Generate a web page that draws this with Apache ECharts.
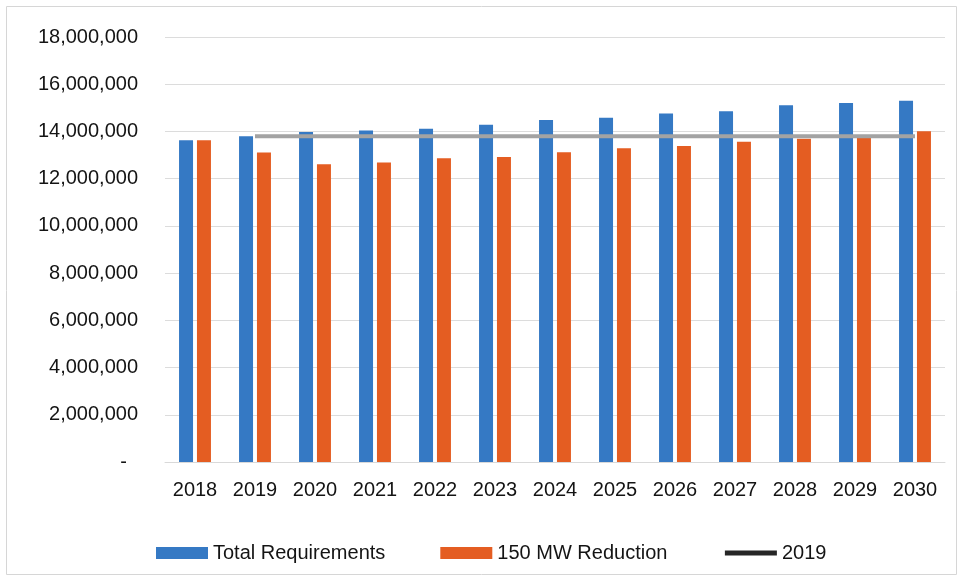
<!DOCTYPE html>
<html>
<head>
<meta charset="utf-8">
<script src="https://cdn.jsdelivr.net/npm/echarts@6/dist/echarts.min.js"></script>
<style>
  html, body { margin: 0; padding: 0; background: #fff; }
  #chart { width: 962px; height: 580px; }
</style>
</head>
<body>
<div id="chart"></div>
<script>
// Annual energy requirements (MWh)
const years = ['2018', '2019', '2020', '2021', '2022', '2023', '2024',
               '2025', '2026', '2027', '2028', '2029', '2030'];
const totalRequirements = [13630000, 13800000, 13980000, 14040000, 14110000, 14280000, 14480000,
                           14580000, 14760000, 14860000, 15110000, 15210000, 15300000];
const reduction150MW = [13630000, 13110000, 12610000, 12690000, 12860000, 12920000, 13120000,
                        13290000, 13380000, 13560000, 13690000, 13750000, 14010000];
// 2019 reference level, drawn from 2019 onward
const level2019 = [null, 13800000, 13800000, 13800000, 13800000, 13800000, 13800000,
                   13800000, 13800000, 13800000, 13800000, 13800000, 13800000];
const yTicks = { min: 0, max: 18000000, step: 2000000 };

const font = 'Liberation Sans, Arial, sans-serif';
const chart = echarts.init(document.getElementById('chart'));

chart.setOption({
  animation: false,
  backgroundColor: '#ffffff',
  graphic: [{
    type: 'rect',
    shape: { x: 6.5, y: 6.5, width: 950, height: 568 },
    style: { fill: 'none', stroke: '#d6d6d6', lineWidth: 1 },
    silent: true
  }],
  grid: { left: 165, right: 17, top: 37, bottom: 118 },
  legend: {
    left: 151,
    top: 538,
    itemWidth: 52,
    itemHeight: 12,
    itemGap: 55,
    textStyle: { fontFamily: font, fontSize: 20, color: '#141414' },
    data: [
      { name: 'Total Requirements', icon: 'rect' },
      { name: '150 MW Reduction', icon: 'rect' },
      { name: '2019', itemStyle: { opacity: 0 }, lineStyle: { color: '#262626', width: 5 } }
    ]
  },
  xAxis: {
    type: 'category',
    data: years,
    axisLine: { show: true, lineStyle: { color: '#d9d9d9' } },
    axisTick: { show: false },
    axisLabel: { fontFamily: font, fontSize: 20, color: '#141414', margin: 18 }
  },
  yAxis: {
    type: 'value',
    min: yTicks.min,
    max: yTicks.max,
    interval: yTicks.step,
    axisLine: { show: false },
    axisTick: { show: false },
    splitLine: { lineStyle: { color: '#dcdcdc', width: 1 } },
    axisLabel: {
      fontFamily: font, fontSize: 20, color: '#141414', margin: 27,
      formatter: v => v === 0 ? '-  ' : v.toLocaleString('en-US')
    }
  },
  series: [
    {
      name: 'Total Requirements',
      type: 'bar',
      data: totalRequirements,
      barWidth: 14,
      barGap: '28%',
      itemStyle: { color: '#3579c4' }
    },
    {
      name: '150 MW Reduction',
      type: 'bar',
      data: reduction150MW,
      barWidth: 14,
      itemStyle: { color: '#e45d22' }
    },
    {
      name: '2019',
      type: 'line',
      data: level2019,
      symbol: 'none',
      showSymbol: false,
      z: 5,
      lineStyle: { color: '#a3a3a3', width: 4 }
    }
  ]
});
</script>
</body>
</html>
